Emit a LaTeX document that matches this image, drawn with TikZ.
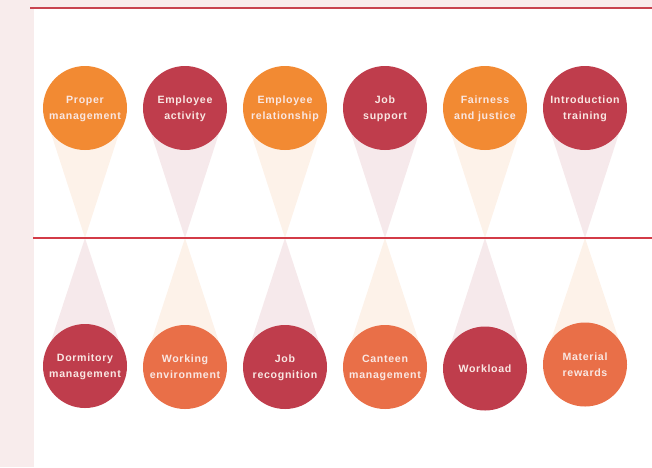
\documentclass[tikz,border=0pt]{standalone}
\usepackage{fontspec}
\setsansfont{Liberation Sans}[LetterSpace=6.5]
\usetikzlibrary{positioning, backgrounds}

\definecolor{bgpink}{HTML}{F8ECEC}
\definecolor{rulered}{HTML}{C8434F}
\definecolor{midred}{HTML}{D33B47}
\definecolor{hiorange}{HTML}{F28A33}
\definecolor{looorange}{HTML}{E96F48}
\definecolor{berry}{HTML}{BF3D4C}
\definecolor{paleorange}{HTML}{FDF2E9}
\definecolor{paleberry}{HTML}{F6E9EB}
\definecolor{txtwhite}{HTML}{F9E7E3}

\begin{document}
\begin{tikzpicture}[x=1pt, y=-1pt, node distance=100pt, on grid,
    item/.style={circle, minimum size=84pt, inner sep=0pt, align=center,
      text depth=0pt, text=txtwhite,
      font=\sffamily\bfseries\fontsize{10.6}{16}\selectfont},
    hi item/.style={item, fill=hiorange},
    lo item/.style={item, fill=looorange},
    berry item/.style={item, fill=berry}]
        \useasboundingbox (0,0) rectangle (652,467);
        \fill[bgpink] (0,0) rectangle (34,467);
        \fill[bgpink] (0,0) rectangle (652,6.5);
        \coordinate (topl) at (30,7.5);
        \coordinate (topr) at (652,7.5);
        \coordinate (midl) at (33,238);
        \coordinate (midr) at (652,238);
        \draw[rulered, line width=2pt] (topl) -- (topr);
        \draw[midred, line width=1.3pt] (midl) -- (midr);

        % upper row
        \node[hi item] (p1) at (85,108) {Proper\\management};
        \node[berry item] (p2) [right=of p1] {Employee\\activity};
        \node[hi item] (p3) [right=of p2] {Employee\\relationship};
        \node[berry item] (p4) [right=of p3] {Job\\support};
        \node[hi item] (p5) [right=of p4] {Fairness\\and justice};
        \node[berry item] (p6) [right=of p5] {Introduction\\training};

        % lower row
        \node[berry item] (q1) [below=258pt of p1] {Dormitory\\management};
        \node[lo item] (q2) [right=of q1, yshift=-1pt] {Working\\environment};
        \node[berry item] (q3) [right=of q2] {Job\\recognition};
        \node[lo item] (q4) [right=of q3] {Canteen\\management};
        \node[berry item] (q5) [right=of q4, yshift=-1.5pt] {Workload};
        \node[lo item] (q6) [right=of q5, yshift=4pt] {Material\\rewards};

        \begin{scope}[on background layer]
            \foreach \n/\c in {p1/paleorange, p2/paleberry, p3/paleorange,
                p4/paleberry, p5/paleorange, p6/paleberry,
                q1/paleberry, q2/paleorange, q3/paleberry,
                q4/paleorange, q5/paleberry, q6/paleorange}
                \fill[\c] (\n.west) -- (\n.east) -- (\n |- midl) -- cycle;
        \end{scope}
    \end{tikzpicture}
\end{document}
